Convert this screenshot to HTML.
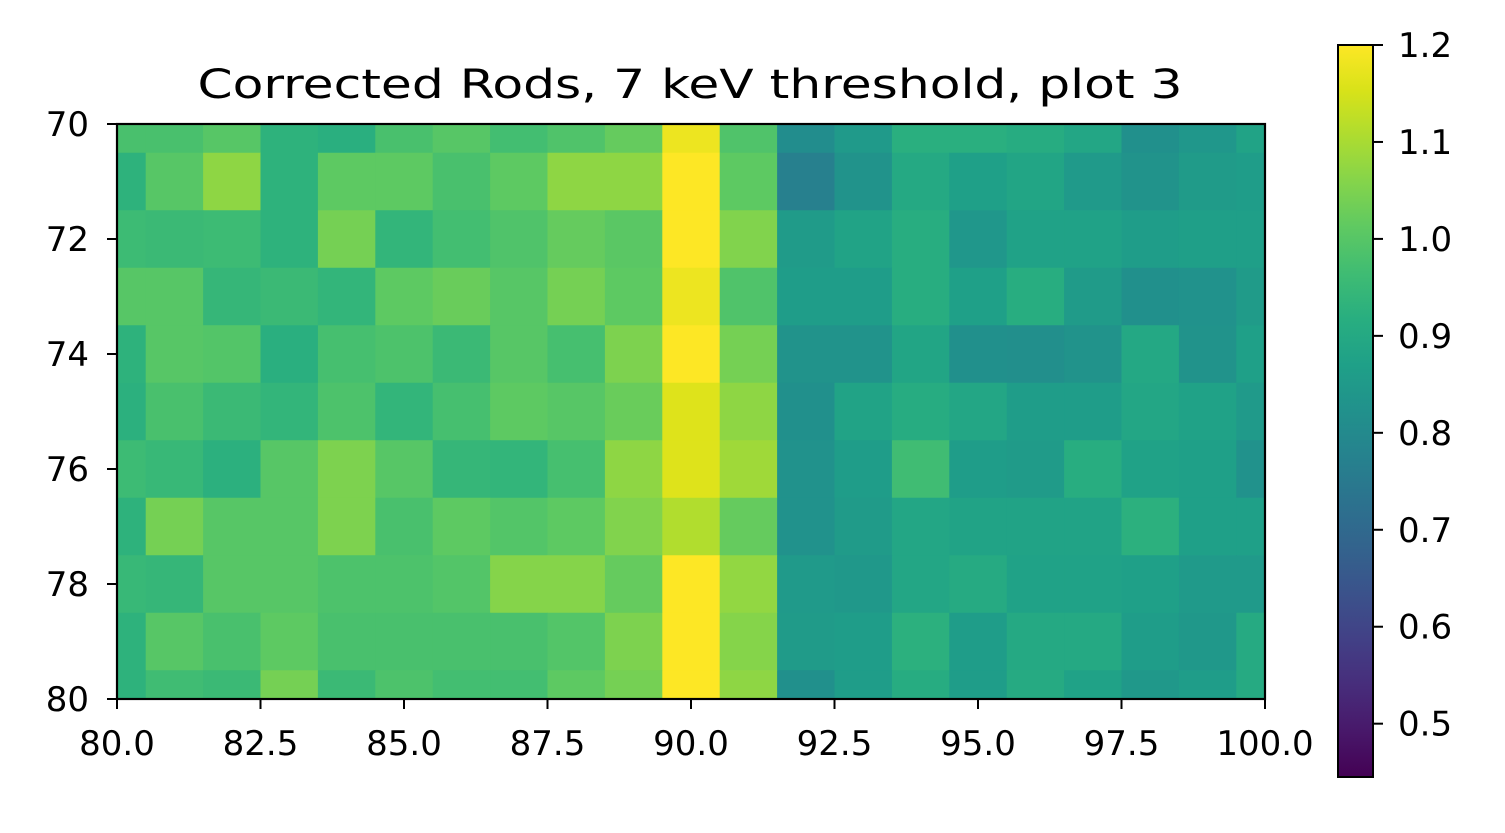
<!DOCTYPE html>
<html><head><meta charset="utf-8"><style>
body{margin:0;background:#fff}
svg{display:block;font-family:"DejaVu Sans","Liberation Sans",sans-serif}
</style></head><body>
<svg id="chart" width="1505" height="833" viewBox="0 0 1505 833" xmlns="http://www.w3.org/2000/svg">
<rect width="1505" height="833" fill="#fff"/>
<text x="690" y="98" font-size="40" text-anchor="middle" textLength="985" lengthAdjust="spacingAndGlyphs">Corrected Rods, 7 keV threshold, plot 3</text>
<g id="cells"></g>
<rect x="117" y="124" width="1148" height="575" fill="none" stroke="#000" stroke-width="2.2"/>
<g id="xaxis"></g>
<g id="yaxis"></g>
<defs><linearGradient id="vir" x1="0" y1="1" x2="0" y2="0"></linearGradient></defs>
<rect x="1338" y="45" width="35" height="732" fill="url(#vir)" stroke="#000" stroke-width="2"/>
<g id="cbaxis"></g>
</svg>
<script>
const xCats=[80,81,82,83,84,85,86,87,88,89,90,91,92,93,94,95,96,97,98,99,100];
const yCats=[70,71,72,73,74,75,76,77,78,79,80];
const row70=[0.98,0.98,1.0,0.93,0.92,0.98,1.0,0.97,0.99,1.02,1.18,0.99,0.81,0.85,0.92,0.92,0.91,0.89,0.82,0.84,0.88];
const row71=[0.93,1.0,1.07,0.93,1.01,1.01,0.98,1.01,1.07,1.07,1.2,1.01,0.77,0.83,0.9,0.87,0.885,0.85,0.83,0.855,0.86];
const row72=[0.96,0.955,0.96,0.93,1.04,0.94,0.97,0.99,1.02,1.005,1.2,1.055,0.855,0.88,0.915,0.84,0.875,0.875,0.86,0.865,0.865];
const row73=[1.0,1.0,0.945,0.955,0.94,1.01,1.025,1.0,1.04,1.01,1.18,0.99,0.86,0.86,0.915,0.87,0.915,0.855,0.82,0.825,0.855];
const row74=[0.93,1.0,0.995,0.92,0.975,0.985,0.955,1.0,0.975,1.05,1.2,1.04,0.83,0.83,0.885,0.82,0.815,0.83,0.895,0.83,0.87];
const row75=[0.925,0.98,0.955,0.94,0.985,0.94,0.975,1.01,1.0,1.025,1.16,1.07,0.82,0.88,0.91,0.89,0.86,0.86,0.89,0.875,0.85];
const row76=[0.96,0.95,0.925,1.0,1.05,1.0,0.945,0.94,0.975,1.07,1.16,1.09,0.825,0.86,0.965,0.86,0.855,0.915,0.875,0.87,0.825];
const row77=[0.93,1.04,1.0,1.0,1.05,0.98,1.01,0.995,1.01,1.055,1.11,1.02,0.825,0.855,0.89,0.88,0.88,0.88,0.925,0.87,0.87];
const row78=[0.95,0.945,1.0,1.0,0.985,0.985,0.995,1.06,1.06,1.02,1.2,1.075,0.85,0.845,0.89,0.905,0.875,0.875,0.87,0.85,0.85];
const row79=[0.93,1.0,0.98,1.01,0.98,0.98,0.98,0.98,0.995,1.05,1.2,1.06,0.855,0.86,0.925,0.86,0.9,0.9,0.86,0.845,0.905];
const row80=[0.93,0.965,0.955,1.04,0.955,0.985,0.97,0.97,1.01,1.04,1.2,1.07,0.82,0.86,0.91,0.86,0.905,0.875,0.845,0.86,0.905];
const rows=[row70,row71,row72,row73,row74,row75,row76,row77,row78,row79,row80];
const xTicks=[80,82.5,85,87.5,90,92.5,95,97.5,100];
const xTickLabels=["80.0","82.5","85.0","87.5","90.0","92.5","95.0","97.5","100.0"];
const yTicks=[70,72,74,76,78,80];
const cbTicks=[0.5,0.6,0.7,0.8,0.9,1.0,1.1,1.2];
const vmin=0.445, vmax=1.2;

const NS="http://www.w3.org/2000/svg";
const VIR=["#440154","#48186a","#472d7b","#424086","#3b528b","#33638d","#2c728e","#26828e","#21918c","#1fa088","#28ae80","#3fbc73","#5ec962","#84d44b","#addc30","#d8e219","#fde725"];
function hx(c){return [1,3,5].map(i=>parseInt(c.substr(i,2),16));}
function viridis(t){t=Math.max(0,Math.min(1,t));const p=t*16,i=Math.min(15,Math.floor(p)),f=p-i;const a=hx(VIR[i]),b=hx(VIR[i+1]);return "rgb("+a.map((v,k)=>Math.round(v+(b[k]-v)*f)).join(",")+")";}
const X0=117,X1=1265,Y0=124,Y1=699;
const xs=v=>X0+(v-80)/20*(X1-X0);
const ys=v=>Y0+(v-70)/10*(Y1-Y0);
const cs=v=>777-(v-vmin)/(vmax-vmin)*732;
function mk(tag,attrs,parent){const e=document.createElementNS(NS,tag);for(const k in attrs)e.setAttribute(k,attrs[k]);parent.appendChild(e);return e;}
const cells=document.getElementById('cells');
rows.forEach((r,ri)=>{r.forEach((v,ci)=>{
  const xa=Math.max(80,xCats[ci]-0.5),xb=Math.min(100,xCats[ci]+0.5);
  const ya=Math.max(70,yCats[ri]-0.5),yb=Math.min(80,yCats[ri]+0.5);
  const e=mk('rect',{x:xs(xa),y:ys(ya),width:xs(xb)-xs(xa)+0.5,height:ys(yb)-ys(ya)+0.5,fill:viridis((v-vmin)/(vmax-vmin))},cells);
  
  
});});
const xa=document.getElementById('xaxis');
xTicks.forEach((t,i)=>{
  const l=mk('line',{x1:xs(t),x2:xs(t),y1:Y1,y2:Y1+10,stroke:'#000','stroke-width':2},xa);
  
  
  const tx=mk('text',{x:xs(t),y:Y1+56,'font-size':34,'text-anchor':'middle'},xa);
  tx.textContent=xTickLabels[i];
  
  
});
const ya=document.getElementById('yaxis');
yTicks.forEach(t=>{
  const l=mk('line',{x1:X0-10,x2:X0,y1:ys(t),y2:ys(t),stroke:'#000','stroke-width':2},ya);
  
  
  const tx=mk('text',{x:X0-28,y:ys(t)+12,'font-size':34,'text-anchor':'end'},ya);
  tx.textContent=String(t);
  
  
});
const g=document.getElementById('vir');
VIR.forEach((c,i)=>mk('stop',{offset:(i/16*100)+'%','stop-color':c},g));
const cb=document.getElementById('cbaxis');
cbTicks.forEach(t=>{
  const l=mk('line',{x1:1373,x2:1383,y1:cs(t),y2:cs(t),stroke:'#000','stroke-width':2},cb);
  
  
  const tx=mk('text',{x:1398,y:cs(t)+12,'font-size':34},cb);
  tx.textContent=t.toFixed(1);
  
  
});
</script>
</body></html>
